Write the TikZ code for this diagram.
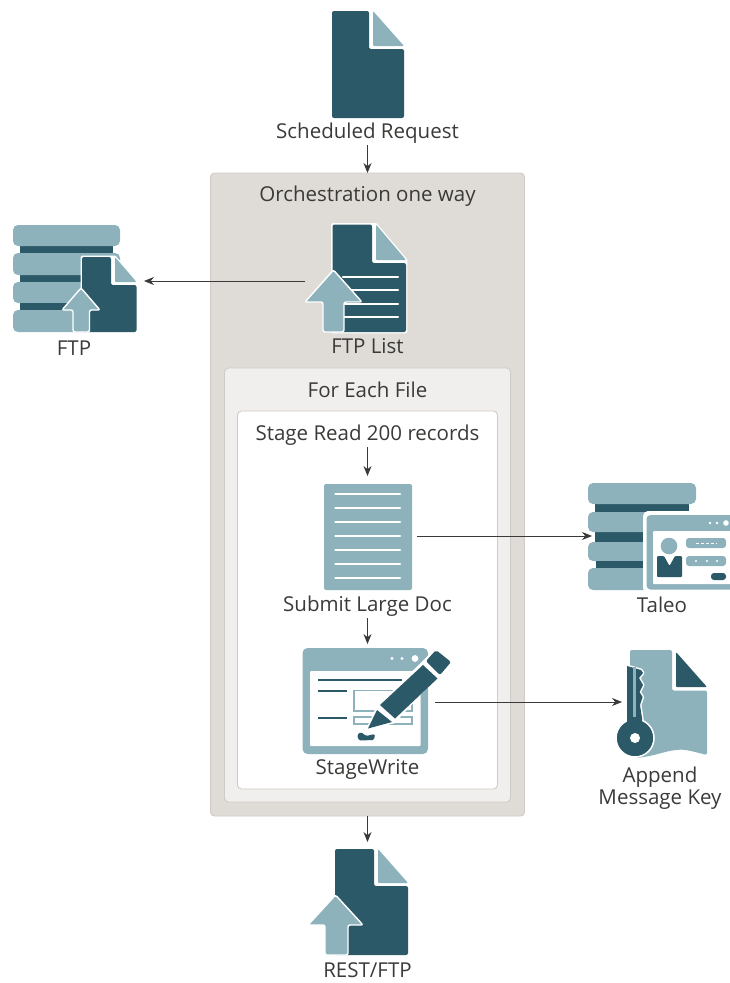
\documentclass[tikz,border=0pt]{standalone}
\usepackage{fontspec}
\setmainfont{Open Sans}
\usetikzlibrary{arrows.meta}
\definecolor{icondark}{HTML}{2C5967}
\definecolor{iconlight}{HTML}{8DB2BC}
\definecolor{orchgray}{HTML}{DFDCD8}
\definecolor{orchedge}{HTML}{CFCBC6}
\definecolor{eachgray}{HTML}{F1EFED}
\definecolor{labelgray}{HTML}{3A3A38}
\tikzset{
    lightfill/.style = {fill = iconlight, draw = white, line width = 1.4pt, rounded corners = 2pt},
    plaindark/.style = {fill = icondark},
    plainlight/.style = {fill = iconlight},
    iconbox/.style = {inner sep = 0, outer sep = 0},
    label/.style = {text = labelgray, inner sep = 0, outer sep = 2pt, align = center},
    flow/.style = {-{Stealth[length = 10pt, width = 8pt]}, color = labelgray, line width = 0.9pt},
    holder/.style = {draw = orchedge, line width = 0.9pt, rounded corners = 4pt, inner sep = 0, outer sep = 0}
}
\newcommand{\docicon}[6]{
    \filldraw[fill = white, draw = white, line width = 2.6pt, line join = round] (#1, #2) -- (#5, #2) -- (#3, #6) -- (#3, #4) -- (#1, #4) -- cycle;
    \fill[plaindark, rounded corners = 2pt] (#1, #2) -- (#5 - 4, #2) -- (#5 - 4, #6 + 3) -- (#3, #6 + 3) -- (#3, #4) -- (#1, #4) -- cycle;
    \fill[plainlight, rounded corners = 1pt] (#5, #2) -- (#3, #6) -- (#5, #6) -- cycle;
}
\newcommand{\upicon}[8]{
    \draw[lightfill] (#1, #2) -- (#5, #3) -- (#7, #3) -- (#7, #4) -- (#6, #4) -- (#6, #3) -- (#8, #3) -- cycle;
}
\newcommand{\dbicon}[8]{
    \fill[plaindark] (#1 + 7, #2) rectangle (#3 - 7, #8);
    \foreach \top/\bottom in {#2/#4, #5/#6, #7/#8}
        \fill[plainlight, rounded corners = 5pt] (#1, \top) rectangle (#3, \bottom);
}
\begin{document}
\begin{tikzpicture}[x = 1pt, y = -1pt, every node/.style = {font = \fontsize{20.5}{22}\selectfont}]

    \useasboundingbox (0, 0) rectangle (729, 983);

    \node (orch) at (367.5, 494.5) [holder, fill = orchgray, minimum width = 314, minimum height = 643] {};
    \node (each) at (367.5, 585) [holder, fill = eachgray, minimum width = 286, minimum height = 434] {};
    \node (read) at (367.5, 600) [holder, fill = white, minimum width = 260, minimum height = 378] {};

    \node (orchtitle) at (367.5, 196) [label] {Orchestration one way};
    \node (eachtitle) at (367.5, 389.5) [label] {For Each File};
    \node (readtitle) at (367.5, 435) [label] {Stage Read 200 records};

    % scheduled request
    \node (sched) at (368, 64.5) [iconbox, minimum width = 72, minimum height = 107] {};
    \docicon{332}{11}{404}{118}{373}{46}
    \node (schedlabel) at (367.5, 133) [label] {Scheduled Request};

    % ftp list
    \node (list) at (355.5, 281) [iconbox, minimum width = 101, minimum height = 102] {};
    \docicon{332.5}{224.5}{406}{332}{376}{260}
    \foreach \y in {277, 290, 304, 317}
        \draw[white, line width = 2.4pt, line cap = round] (343, \y) -- (398, \y);
    \upicon{333.5}{270}{302}{332}{305}{344}{323}{362}
    \node (listlabel) at (367.5, 346) [label] {FTP List};

    % ftp
    \node (ftp) at (78.5, 281) [iconbox, minimum width = 131, minimum height = 110] {};
    \dbicon{13}{225}{120}{246}{253}{275}{282}{303}
    \fill[plainlight, rounded corners = 5pt] (13, 310) rectangle (120, 332);
    \fill[plaindark] (20, 303) rectangle (113, 310);
    \docicon{82}{257}{136.5}{332}{115}{282}
    \upicon{81}{288}{310}{332}{62}{89.5}{73}{100}
    \node (ftplabel) at (74, 348) [label] {FTP};

    % submit large doc
    \node (submit) at (367.5, 536) [iconbox, minimum width = 99, minimum height = 120] {};
    \fill[plainlight, rounded corners = 2pt] (324, 484) rectangle (412, 590);
    \foreach \y in {494, 508, 522, 536, 550, 564, 578}
        \draw[white, line width = 2.6pt, line cap = round] (335.5, \y) -- (400, \y);
    \node (submitlabel) at (367.5, 606) [label] {Submit Large Doc};

    % taleo
    \node (taleo) at (642, 536) [iconbox, minimum width = 100, minimum height = 106] {};
    \dbicon{588}{483}{696}{504}{512}{532}{542}{561}
    \fill[plainlight, rounded corners = 5pt] (588, 568) rectangle (696, 590);
    \fill[plaindark] (596, 561) rectangle (688, 568);
    \fill[white, rounded corners = 5pt] (643, 511) rectangle (735, 593);
    \fill[plainlight, rounded corners = 4pt] (646.5, 515) rectangle (735, 589.5);
    \fill[white, rounded corners = 1pt] (653, 531) rectangle (735, 584);
    \foreach \x in {710, 717}
        \fill[white] (\x, 523) circle (1.3);
    \fill[white] (726, 523) circle (2.8);
    \fill[plainlight] (669, 546) circle (8.3);
    \fill[plaindark, rounded corners = 1pt] (657, 556) -- (664, 556) -- (669.5, 566) -- (675, 556) -- (682, 556) -- (682, 577) -- (657, 577) -- cycle;
    \fill[plainlight, rounded corners = 3pt] (686, 538) rectangle (726, 548);
    \fill[plainlight, rounded corners = 3pt] (686, 556) rectangle (726, 566);
    \draw[white, line width = 1pt, dash pattern = on 3pt off 2pt] (696, 543) -- (717, 543);
    \foreach \x in {696, 707, 717}
        \fill[white] (\x, 561) circle (1.2);
    \fill[plaindark, rounded corners = 3pt] (711, 573) rectangle (726, 580);
    \node (taleolabel) at (662, 605) [label] {Taleo};

    % stage write
    \node (write) at (367.5, 702) [iconbox, minimum width = 135, minimum height = 116] {};
    \fill[plainlight, rounded corners = 5pt] (302.5, 648) rectangle (428, 754);
    \fill[white, rounded corners = 1pt] (310, 671) rectangle (420.5, 746);
    \foreach \x in {392, 402}
        \fill[white] (\x, 658.5) circle (1.6);
    \fill[white] (415, 658.5) circle (3.4);
    \draw[icondark, line width = 1.8pt] (318, 680) -- (402, 680);
    \draw[icondark, line width = 1.8pt] (318, 691) -- (347, 691);
    \draw[icondark, line width = 1.8pt] (318, 718) -- (347, 718);
    \draw[iconlight, line width = 1.6pt] (354, 711) -- (354, 690.5) -- (412, 690.5) -- (412, 711) -- cycle;
    \draw[iconlight, line width = 1.6pt] (354, 717) -- (412, 717) -- (412, 724) -- (354, 724) -- cycle;
    \fill[plaindark, rounded corners = 1.5pt] (357, 735) -- (361, 732) -- (366, 736) -- (375, 734) -- (374, 740) -- (359, 740.5) -- cycle;
    \filldraw[fill = white, draw = white, line width = 2.6pt, line join = round] (368, 728.5) -- (377, 708) -- (435, 650.5) -- (450, 661) -- (394, 722) -- cycle;
    \fill[plaindark, rounded corners = 2pt] (426, 661) -- (436, 650) -- (451, 662) -- (440, 675) -- cycle;
    \fill[plaindark] (423, 665) -- (437.5, 678.5) -- (395, 718.5) -- (380, 705) -- cycle;
    \fill[plaindark] (377, 710) -- (392, 722) -- (368, 728.5) -- cycle;
    \node (writelabel) at (367.5, 769) [label] {StageWrite};

    % append message key
    \node (key) at (664, 702) [iconbox, minimum width = 84, minimum height = 107] {};
    \fill[plainlight, rounded corners = 2pt] (630, 650) -- (672, 650) -- (672, 690.5) -- (707, 690.5) -- (707, 755) .. controls (695, 752) and (685, 749) .. (677, 750) .. controls (665, 751) and (655, 756) .. (636, 758) -- (630, 730) -- cycle;
    \fill[plaindark, rounded corners = 1pt] (676, 652) -- (707, 687) -- (676, 687) -- cycle;
    \filldraw[fill = white, draw = white, line width = 3pt, line join = round] (627, 666) -- (641, 670) -- (643, 673) -- (639, 678) -- (643, 685) -- (639.5, 692) -- (642.6, 697) -- (640, 705) -- (642, 718) -- (642, 728) -- (627, 728) -- cycle;
    \filldraw[fill = icondark, draw = white, line width = 1.5pt] (635, 738) circle (19);
    \fill[plaindark] (627, 666) -- (641, 670) -- (643, 673) -- (639, 678) -- (643, 685) -- (639.5, 692) -- (642.6, 697) -- (640, 705) -- (642, 718) -- (642, 728) -- (627, 728) -- cycle;
    \fill[plainlight] (633, 667) rectangle (636, 717);
    \fill[white] (635, 738) circle (5);
    \node (keylabel) at (660, 788) [label] {Append\\Message Key};

    % rest ftp
    \node (rest) at (367.5, 902) [iconbox, minimum width = 81, minimum height = 120] {};
    \docicon{335}{849}{408}{955}{378}{883}
    \upicon{335.5}{895}{925}{955}{308}{348}{325}{363}
    \node (restlabel) at (367.5, 970) [label] {REST/FTP};

    \draw[flow] (schedlabel.south) -- (orch.north);
    \draw[flow] (list.west) -- (ftp.east);
    \draw[flow] (readtitle.south) -- (submit.north);
    \draw[flow] (submit.east) -- (taleo.west);
    \draw[flow] (submitlabel.south) -- (write.north);
    \draw[flow] (write.east) -- (key.west);
    \draw[flow] (orch.south) -- (rest.north);

\end{tikzpicture}
\end{document}
